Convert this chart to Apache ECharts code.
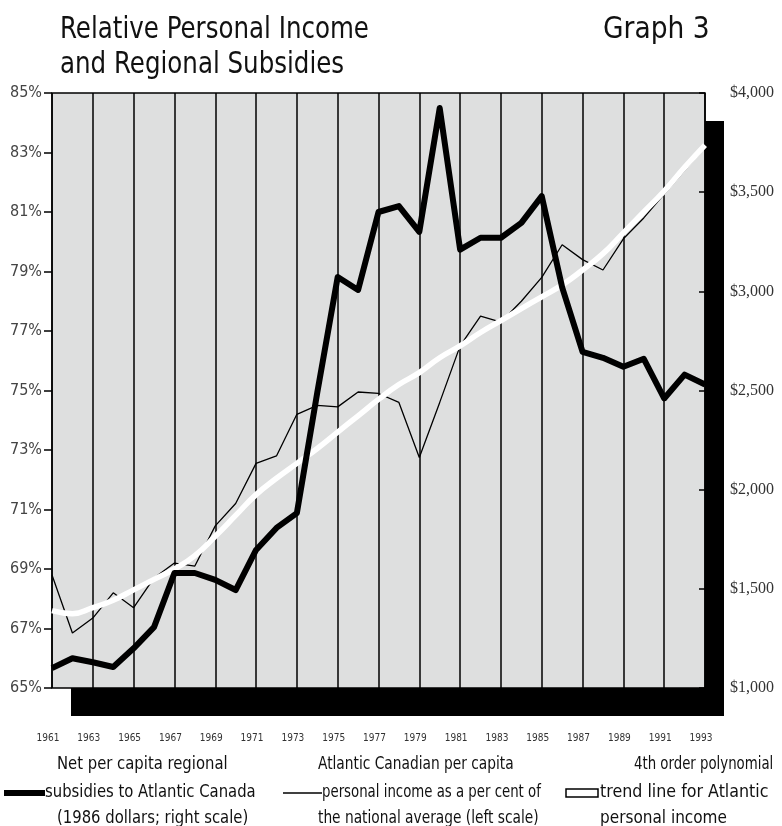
<!DOCTYPE html>
<html>
<head>
<meta charset="utf-8">
<script src="https://cdn.jsdelivr.net/npm/echarts@6/dist/echarts.min.js"></script>
<style>
  html, body { margin: 0; padding: 0; background: #fff; }
  #chart { width: 782px; height: 826px; }
</style>
</head>
<body>
<div id="chart"></div>
<script>
// years on the x axis
const years = [];
for (let y = 1961; y <= 1993; y++) years.push(String(y));

// net per capita regional subsidies, 1986 dollars (right scale)
const subsidies = [1100, 1150, 1130, 1106, 1200, 1307, 1580, 1580, 1545, 1494,
    1696, 1807, 1882, 2490, 3072, 3007, 3400, 3430, 3300, 3924,
    3210, 3270, 3270, 3345, 3480, 3020, 2695, 2665, 2620, 2660,
    2460, 2580, 2530];

// Atlantic per capita income as % of national average (left scale)
const income = [68.8, 66.85, 67.35, 68.2, 67.7, 68.7, 69.2, 69.1, 70.45, 71.2,
    72.55, 72.8, 74.2, 74.5, 74.45, 74.95, 74.9, 74.6, 72.75, 74.6,
    76.5, 77.5, 77.3, 78.0, 78.8, 79.9, 79.4, 79.05, 80.1, 80.8,
    81.6, 82.4, 83.2];

// 4th order polynomial trend of income (left scale)
const trend = [67.6, 67.5, 67.7, 67.95, 68.3, 68.65, 69.0, 69.45, 70.1, 70.8,
    71.5, 72.05, 72.55, 73.05, 73.6, 74.15, 74.7, 75.2, 75.6, 76.1,
    76.5, 76.95, 77.35, 77.75, 78.15, 78.55, 79.05, 79.6, 80.3, 81.0,
    81.7, 82.5, 83.25];

const condensed = '"Liberation Sans Narrow", "DejaVu Sans Condensed", sans-serif';

const chart = echarts.init(document.getElementById('chart'));

// plain text helper for the title and hand-made legend
function label(x, y, text, size, sx) {
    return {
        type: 'text', x: x, y: y, scaleX: sx || 1,
        style: { text: text, font: size + 'px ' + condensed, fill: '#111', textVerticalAlign: 'middle' }
    };
}

const plotBox = { left: 52, right: 77, top: 93, bottom: 138 };

const option = {
    backgroundColor: '#fff',
    animation: false,
    grid: [
        // grey panel with the black drop shadow
        Object.assign({
            show: true,
            backgroundColor: '#dedfdf',
            borderWidth: 0,
            shadowColor: '#000',
            shadowBlur: 0,
            shadowOffsetX: 19,
            shadowOffsetY: 28
        }, plotBox),
        // frame only, so the shadow does not pick up the border
        Object.assign({
            show: true,
            backgroundColor: 'transparent',
            borderColor: '#000',
            borderWidth: 1.5
        }, plotBox)
    ],
    xAxis: {
        type: 'category',
        data: years,
        boundaryGap: false,
        axisLine: { show: false },
        axisTick: { show: false },
        axisLabel: {
            interval: 1, margin: 45, padding: [0, 8, 0, 0],
            fontFamily: condensed, fontSize: 10, color: '#333'
        },
        splitLine: { show: true, interval: 1, lineStyle: { color: '#000', width: 1.5 } }
    },
    yAxis: [
        {
            type: 'value', min: 65, max: 85, interval: 2,
            axisLine: { show: false },
            axisTick: { show: true, length: 8, lineStyle: { color: '#000', width: 1.5 } },
            axisLabel: {
                formatter: '{value}%', margin: 10,
                fontFamily: condensed, fontSize: 16, color: '#444'
            },
            splitLine: { show: false }
        },
        {
            type: 'value', min: 1000, max: 4000, interval: 500,
            position: 'right',
            axisLine: { show: false },
            axisTick: { show: true, inside: true, length: 6, lineStyle: { color: '#000', width: 1.5 } },
            axisLabel: {
                margin: 25,
                formatter: v => '$' + v.toLocaleString('en-US'),
                fontFamily: '"Liberation Serif", serif', fontSize: 16, color: '#333'
            },
            splitLine: { show: false }
        }
    ],
    series: [
        {
            name: 'Income',
            type: 'line', yAxisIndex: 0,
            data: income,
            showSymbol: false,
            lineStyle: { color: '#000', width: 1.3 },
            z: 2
        },
        {
            name: 'Trend',
            type: 'line', yAxisIndex: 0,
            data: trend,
            smooth: true,
            showSymbol: false,
            lineStyle: { color: '#fff', width: 5.5 },
            z: 3
        },
        {
            name: 'Subsidies',
            type: 'line', yAxisIndex: 1,
            data: subsidies,
            showSymbol: false,
            lineStyle: { color: '#000', width: 6, join: 'round' },
            z: 4
        }
    ],
    graphic: [
        label(60, 30, 'Relative Personal Income', 31, 0.88),
        label(60, 65, 'and Regional Subsidies', 31, 0.88),
        label(603, 30, 'Graph 3', 31, 0.95),

        { type: 'line', shape: { x1: 4, y1: 793, x2: 45, y2: 793 }, style: { stroke: '#000', lineWidth: 6 } },
        label(57, 765, 'Net per capita regional', 17, 0.97),
        label(45, 793, 'subsidies to Atlantic Canada', 17, 0.97),
        label(57, 819, '(1986 dollars; right scale)', 17, 0.97),

        { type: 'line', shape: { x1: 283, y1: 793, x2: 322, y2: 793 }, style: { stroke: '#000', lineWidth: 1.5 } },
        label(318, 765, 'Atlantic Canadian per capita', 17, 0.9),
        label(322, 793, 'personal income as a per cent of', 17, 0.87),
        label(318, 819, 'the national average (left scale)', 17, 0.9),

        { type: 'rect', shape: { x: 566, y: 789, width: 32, height: 8 }, style: { fill: '#fff', stroke: '#000', lineWidth: 1.5 } },
        label(634, 765, '4th order polynomial', 17, 0.87),
        label(600, 793, 'trend line for Atlantic', 17, 1.04),
        label(600, 819, 'personal income', 17, 1.0)
    ]
};

chart.setOption(option);
</script>
</body>
</html>
